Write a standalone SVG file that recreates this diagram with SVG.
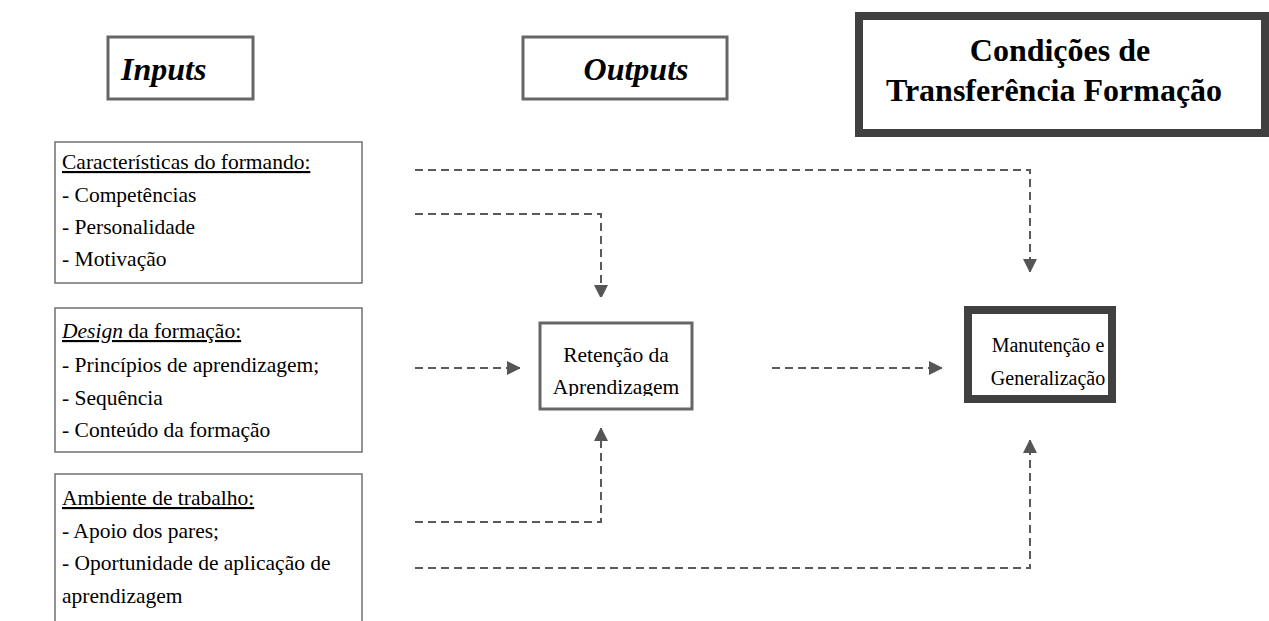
<svg xmlns="http://www.w3.org/2000/svg" width="1269" height="621" viewBox="0 0 1269 621">
<style>
text{font-family:"Liberation Serif","Times New Roman",serif;fill:#000}
.body{font-size:21.5px}
.box{font-size:20px}
.hdr{font-size:32px;font-weight:bold}
.hi{font-size:32px;font-weight:bold;font-style:italic}
.thin{fill:#fff;stroke:#707070;stroke-width:1.5}
.med{fill:#fff;stroke:#666;stroke-width:3}
.thick{fill:#fff;stroke:#404040;stroke-width:8}
.dash{fill:none;stroke:#5a5a5a;stroke-width:2;stroke-dasharray:8 5}
</style>
<defs>
<marker id="ah" viewBox="0 0 12 14" refX="13" refY="7" markerWidth="12" markerHeight="14" markerUnits="userSpaceOnUse" orient="auto">
<path d="M0,0 L14,7 L0,14 Z" fill="#555"/>
</marker>
<clipPath id="retClip"><rect x="542" y="325" width="148" height="71"/></clipPath>
</defs>
<rect width="1269" height="621" fill="#fff"/>

<g id="inputs">
<rect class="med" x="108" y="37" width="145" height="62"/>
<text class="hi" x="121" y="80">Inputs</text>
</g>
<g id="outputs">
<rect class="med" x="523" y="37" width="204" height="62"/>
<text class="hi" x="636" y="80" text-anchor="middle">Outputs</text>
</g>
<g id="condicoes">
<rect class="thick" x="859" y="16" width="406" height="117"/>
<text class="hdr" x="1060" y="61" text-anchor="middle">Condições de</text>
<text class="hdr" x="1054" y="101" text-anchor="middle">Transferência Formação</text>
</g>

<g id="caracteristicas">
<rect class="thin" x="55" y="142" width="307" height="141"/>
<text class="body" x="62" y="169" text-decoration="underline">Características do formando:</text>
<text class="body" x="62" y="202">- Competências</text>
<text class="body" x="62" y="234">- Personalidade</text>
<text class="body" x="62" y="266">- Motivação</text>
</g>
<g id="design">
<rect class="thin" x="55" y="308" width="307" height="144"/>
<text class="body" x="62" y="338" text-decoration="underline"><tspan font-style="italic">Design</tspan> da formação:</text>
<text class="body" x="62" y="372">- Princípios de aprendizagem;</text>
<text class="body" x="62" y="405">- Sequência</text>
<text class="body" x="62" y="437">- Conteúdo da formação</text>
</g>
<g id="ambiente">
<path class="thin" d="M55,630 V474 H362 V630"/>
<text class="body" x="62" y="505" text-decoration="underline">Ambiente de trabalho:</text>
<text class="body" x="62" y="538">- Apoio dos pares;</text>
<text class="body" x="62" y="570">- Oportunidade de aplicação de</text>
<text class="body" x="62" y="603">aprendizagem</text>
</g>

<g id="retencao">
<rect class="med" x="540" y="323" width="152" height="86"/>
<g clip-path="url(#retClip)">
<text class="body" x="616" y="362" text-anchor="middle">Retenção da</text>
<text class="body" x="616" y="394" text-anchor="middle">Aprendizagem</text>
</g>
</g>
<g id="manutencao">
<rect class="thick" x="968" y="310" width="144" height="89"/>
<text class="box" x="1048" y="352" text-anchor="middle">Manutenção e</text>
<text class="box" x="1048" y="385" text-anchor="middle">Generalização</text>
</g>

<g id="connectors">
<path class="dash" d="M415,170 H1030 V272" marker-end="url(#ah)"/>
<path class="dash" d="M415,214 H601 V298" marker-end="url(#ah)"/>
<path class="dash" d="M415,368 H520" marker-end="url(#ah)"/>
<path class="dash" d="M772,368 H942" marker-end="url(#ah)"/>
<path class="dash" d="M415,522 H601 V428" marker-end="url(#ah)"/>
<path class="dash" d="M415,568 H1030 V440" marker-end="url(#ah)"/>
</g>
</svg>
